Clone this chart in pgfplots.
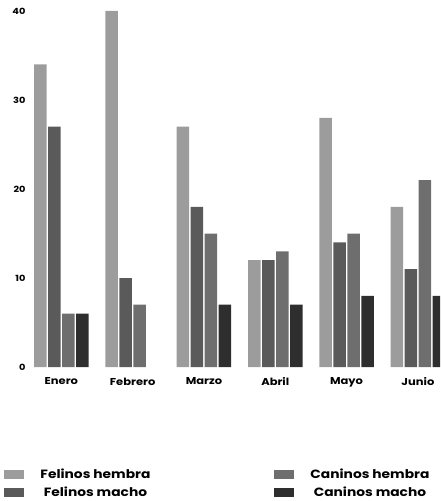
\documentclass[border=0pt]{standalone}
\usepackage{fontspec}
\setmainfont{Poppins}[FakeStretch=1.15]
\usepackage{pgfplots}
\pgfplotsset{compat=1.18}
\definecolor{fh}{HTML}{9C9C9C}
\definecolor{fm}{HTML}{5A5A5A}
\definecolor{ch}{HTML}{6E6E6E}
\definecolor{cm}{HTML}{2E2E2E}
\begin{document}
\begin{tikzpicture}
\begin{axis}[
  at={(0pt,0pt)}, anchor=south west,
  scale only axis,
  width=410pt, height=356pt,
  ymin=0, ymax=40,
  xmin=-0.44, xmax=5.31,
  ybar=1.5pt, bar width=12.5pt,
  ytick={0,10,20,30,40},
  xtick={0,1,2,3,4,5},
  xticklabels={Enero,Febrero,Marzo,Abril,Mayo,Junio},
  axis line style={draw=none},
  tick style={draw=none},
  /pgf/number format/assume math mode=true,
  yticklabel style={font=\fontsize{8.5}{9}\selectfont\bfseries, xshift=-1pt},
  xticklabel style={font=\fontsize{10}{11}\selectfont\bfseries, yshift=-3pt},
  legend columns=2, transpose legend,
  legend cell align=center,
  legend style={at={(axis description cs:-0.07,-0.275)}, anchor=north west,
    draw=none, fill=none, font=\fontsize{12}{13}\selectfont\bfseries,
    /tikz/every odd column/.append style={column sep=14pt},
    /tikz/every even column/.append style={column sep=122pt},
    row sep=3pt},
  legend image code/.code={\fill[#1] (0pt,-4.5pt) rectangle (20pt,4.5pt);},
]
\addplot[fill=fh, draw=none] coordinates {(0,34) (1,40) (2,27) (3,12) (4,28) (5,18)};
\addplot[fill=fm, draw=none] coordinates {(0,27) (1,10) (2,18) (3,12) (4,14) (5,11)};
\addplot[fill=ch, draw=none] coordinates {(0,6) (1,7) (2,15) (3,13) (4,15) (5,21)};
\addplot[fill=cm, draw=none] coordinates {(0,6) (2,7) (3,7) (4,8) (5,8)};
\legend{Felinos hembra, Felinos macho, Caninos hembra, Caninos macho}
\end{axis}
\pgfresetboundingbox
\path (-30pt,-134pt) rectangle (410pt,367pt);
\end{tikzpicture}
\end{document}
